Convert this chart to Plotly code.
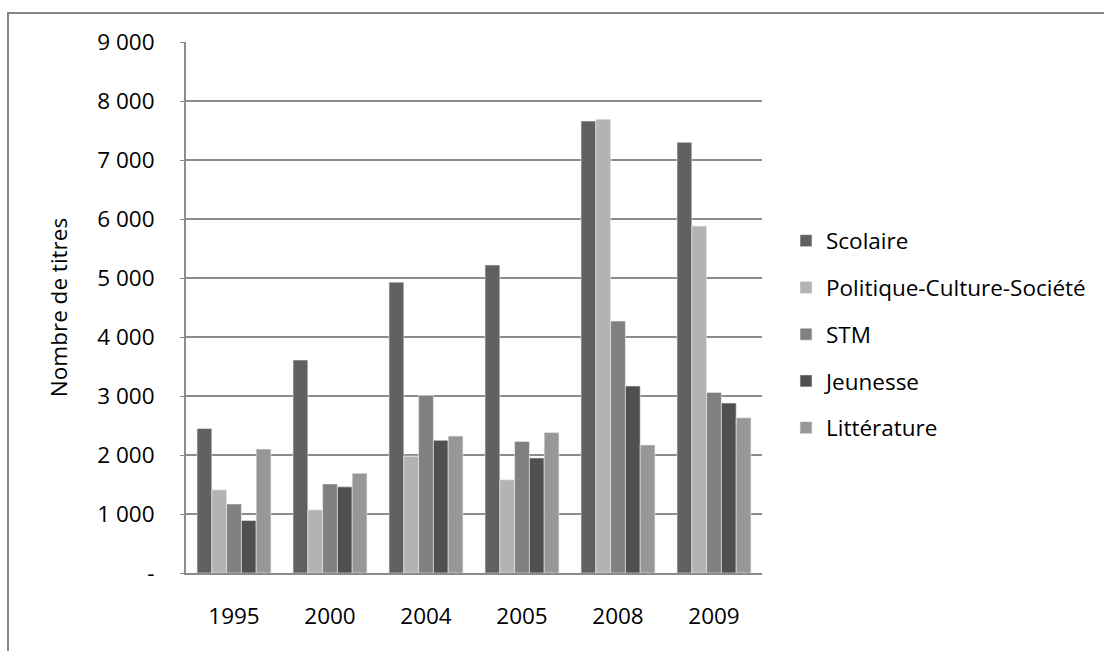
import plotly.graph_objects as go

# Number of titles per year and category
years = ["1995", "2000", "2004", "2005", "2008", "2009"]
series_names = ["Scolaire", "Politique-Culture-Société", "STM", "Jeunesse", "Littérature"]
scolaire = [2450, 3610, 4930, 5220, 7660, 7300]
politique = [1410, 1070, 1980, 1580, 7690, 5880]
stm = [1170, 1510, 3010, 2230, 4270, 3060]
jeunesse = [890, 1460, 2250, 1950, 3170, 2880]
litterature = [2100, 1690, 2320, 2380, 2170, 2630]

y_tick_values = [0, 1000, 2000, 3000, 4000, 5000, 6000, 7000, 8000, 9000]
y_tick_labels = ["-", "1 000", "2 000", "3 000", "4 000", "5 000", "6 000", "7 000", "8 000", "9 000"]

colors = ["#606060", "#b3b3b3", "#808080", "#505050", "#979797"]
all_series = [scolaire, politique, stm, jeunesse, litterature]

FONT = "Open Sans"
FS = 22.5
W, H = 1104, 651
L, R, T, B = 186, 342, 42, 78
pw, ph = W - L - R, H - T - B

fig = go.Figure()
for name, vals, col in zip(series_names, all_series, colors):
    fig.add_trace(go.Bar(
        x=years, y=vals, name=name, legendgroup=name,
        marker=dict(color=col, line=dict(color="#eeeeee", width=0.6)),
    ))

# outer frame of the chart area
fig.add_shape(type="rect", xref="paper", yref="paper",
              x0=(8 - L) / pw, x1=(W + 20 - L) / pw,
              y0=-(B + 20) / ph, y1=(H - B - 13) / ph,
              line=dict(color="#878787", width=2), layer="below")

fig.update_layout(
    width=W, height=H,
    margin=dict(l=L, r=R, t=T, b=B),
    paper_bgcolor="white", plot_bgcolor="white",
    barmode="group", bargap=0.23, bargroupgap=0,
    font=dict(family=FONT, size=FS, color="#000000"),
    legend=dict(x=(786 - L) / pw, xanchor="left", y=(H - B - 334.5) / ph, yanchor="middle",
                font=dict(family=FONT, size=FS, color="#000000"),
                tracegroupgap=14.5, traceorder="grouped", itemwidth=30,
                bgcolor="rgba(0,0,0,0)"),
    xaxis=dict(showline=True, linecolor="#8c8c8c", linewidth=2, ticks="",
               ticklabelstandoff=22, showgrid=False,
               tickfont=dict(family=FONT, size=FS, color="#000000")),
    yaxis=dict(range=[0, 9000], tickvals=y_tick_values, ticktext=y_tick_labels,
               showline=True, linecolor="#8c8c8c", linewidth=2,
               ticks="outside", ticklen=4, tickcolor="#8c8c8c", tickwidth=1,
               ticklabelstandoff=21,
               showgrid=True, gridcolor="#8c8c8c", gridwidth=2, zeroline=False,
               title=dict(text="Nombre de titres", standoff=23,
                          font=dict(family=FONT, size=FS, color="#000000")),
               tickfont=dict(family=FONT, size=FS, color="#000000")),
)

fig.write_html("out.html")
